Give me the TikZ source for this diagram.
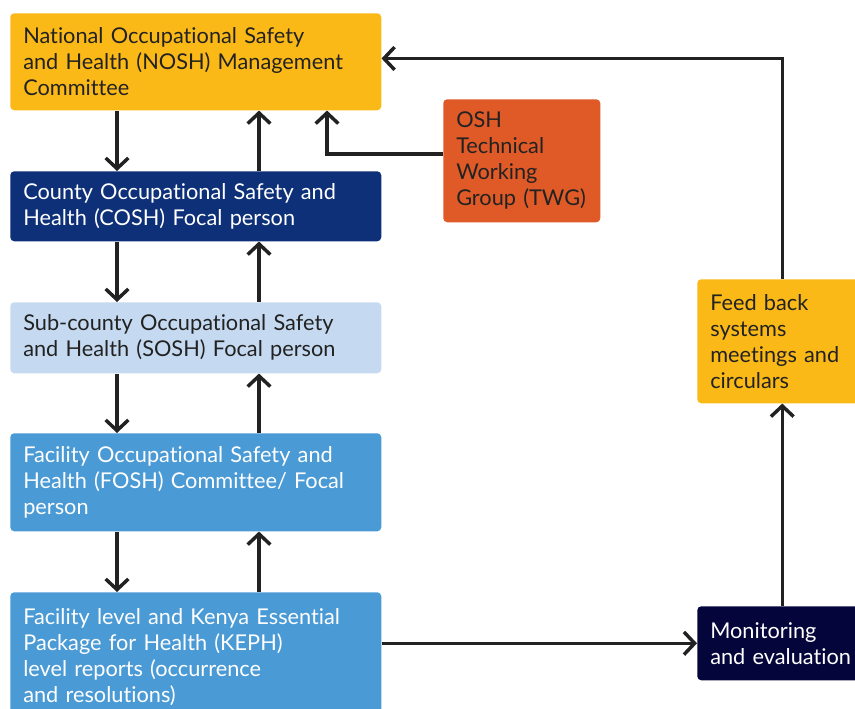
\documentclass[tikz,border=0pt]{standalone}
\usepackage{fontspec}
\setmainfont[Ligatures={NoCommon}]{Lato}
\usetikzlibrary{arrows.meta,calc}
\definecolor{oshyellow}{RGB}{251,185,24}
\definecolor{oshorange}{RGB}{224,90,40}
\definecolor{oshnavy}{RGB}{13,48,120}
\definecolor{oshpale}{RGB}{197,218,241}
\definecolor{oshblue}{RGB}{74,154,213}
\definecolor{oshdark}{RGB}{4,5,58}
\definecolor{oshtext}{RGB}{34,34,34}
\tikzset{
  box/.style={rectangle, rounded corners=3pt, anchor=north west, align=left,
    inner xsep=9.75pt, inner ysep=0pt, font=\fontsize{16.3}{19.5}\selectfont,
    text=oshtext},
  arr/.style={-{Straight Barb[length=8pt,width=17pt]}, line width=2.6pt, draw=oshtext}
}
\begin{document}
\begin{tikzpicture}[x=0.75pt,y=-0.75pt]
      \useasboundingbox (0,0) rectangle (855,708);
      \clip (0,0) rectangle (855,708);
      \node[box, fill=oshyellow, minimum width=278.25pt, minimum height=72.75pt,
        text width=258.75pt] (nosh) at (10,13)
        {National Occupational Safety\\and Health (NOSH) Management\\Committee};
      \node[box, fill=oshnavy, text=white, minimum width=278.25pt, minimum height=52.5pt,
        text width=258.75pt] (cosh) at (10,171)
        {County Occupational Safety and\\Health (COSH) Focal person};
      \node[box, fill=oshpale, minimum width=278.25pt, minimum height=53.25pt,
        text width=258.75pt] (sosh) at (10,302)
        {Sub-county Occupational Safety\\and Health (SOSH) Focal person};
      \node[box, fill=oshblue, text=white, minimum width=278.25pt, minimum height=73.5pt,
        text width=258.75pt] (fosh) at (10,433)
        {Facility Occupational Safety and\\Health (FOSH) Committee/ Focal\\person};
      \node[box, fill=oshblue, text=white, minimum width=278.25pt, minimum height=97.5pt,
        text width=258.75pt] (keph) at (10,592)
        {Facility level and Kenya Essential\\Package for Health (KEPH)\\level reports (occurrence\\and resolutions)};
      \node[box, fill=oshorange, minimum width=117.75pt, minimum height=92.25pt,
        text width=98.25pt] (twg) at (443,99)
        {OSH\\Technical\\Working\\Group (TWG)};
      \node[box, fill=oshyellow, minimum width=127.5pt, minimum height=93pt,
        text width=108pt] (fb) at (697,279)
        {Feed back\\systems\\meetings and\\circulars};
      \node[box, fill=oshdark, text=white, minimum width=127.5pt, minimum height=55.5pt,
        text width=108pt] (mon) at (697,606)
        {Monitoring\\and evaluation};
      \begin{scope}[arr]
        \foreach \upper/\lower in {nosh/cosh, cosh/sosh, sosh/fosh, fosh/keph} {
          \draw ([xshift=80.25pt]\upper.south west) -- ([xshift=80.25pt]\lower.north west);
          \draw ([xshift=186.75pt]\lower.north west) -- ([xshift=186.75pt]\upper.south west);
        }
        \draw ([yshift=5pt]twg.west) -| ([xshift=237.75pt]nosh.south west);
        \draw (fb.north) |- ([yshift=2.5pt]nosh.east);
        \draw (mon.north) -- (fb.south);
        \draw (keph.east |- mon.west) -- (mon.west);
      \end{scope}
    \end{tikzpicture}
\end{document}
